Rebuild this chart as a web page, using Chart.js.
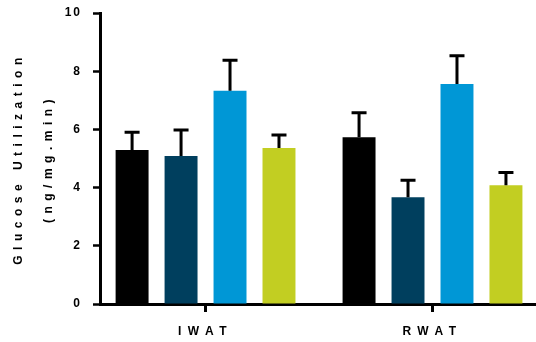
<!DOCTYPE html>
<html>
<head>
<meta charset="utf-8">
<script src="https://cdn.jsdelivr.net/npm/chart.js@4/dist/chart.umd.min.js"></script>
<style>
  body { margin: 0; background: #fff; overflow: hidden; }
</style>
</head>
<body>
<canvas id="glucoseChart" width="536" height="342"></canvas>
<script>
// values (mean and upward SEM)
const categories = ['IWAT', 'RWAT'];
const yTicks = [0, 2, 4, 6, 8, 10];
const group1 = [5.29, 5.73];
const group1Err = [0.61, 0.84];
const group2 = [5.09, 3.67];
const group2Err = [0.89, 0.58];
const group3 = [7.33, 7.56];
const group3Err = [1.05, 0.97];
const group4 = [5.36, 4.08];
const group4Err = [0.45, 0.44];

const FONT = 'Arial, "Liberation Sans", sans-serif';

const toPoints = (vals) => vals.map((v, i) => ({x: i, y: v}));

// draws the one-sided error bars
const errorBars = {
  id: 'errorBars',
  afterDatasetsDraw(chart) {
    const ctx = chart.ctx;
    const yScale = chart.scales.y;
    ctx.save();
    ctx.strokeStyle = '#000';
    ctx.lineWidth = 3;
    chart.data.datasets.forEach((ds, di) => {
      const meta = chart.getDatasetMeta(di);
      meta.data.forEach((bar, i) => {
        const top = yScale.getPixelForValue(ds.data[i].y + ds.errors[i]);
        ctx.beginPath();
        ctx.moveTo(bar.x, bar.y);
        ctx.lineTo(bar.x, top);
        ctx.moveTo(bar.x - 7.5, top);
        ctx.lineTo(bar.x + 7.5, top);
        ctx.stroke();
      });
    });
    ctx.restore();
  }
};

// the figure uses widely spaced letters
const letterSpacing = {
  id: 'letterSpacing',
  beforeDraw(chart) {
    const patch = (scale, method, sp) => {
      const orig = scale[method];
      if (orig._spaced) return;
      const fn = function (...args) {
        const prev = this.ctx.letterSpacing;
        this.ctx.letterSpacing = sp;
        orig.apply(this, args);
        this.ctx.letterSpacing = prev;
      };
      fn._spaced = true;
      scale[method] = fn;
    };
    patch(chart.scales.y, 'drawTitle', '5.5px');
    patch(chart.scales.y, 'drawLabels', '2px');
    patch(chart.scales.x, 'drawLabels', '6.5px');
  }
};

const ctx = document.getElementById('glucoseChart').getContext('2d');
const chart = new Chart(ctx, {
  type: 'bar',
  data: {
    datasets: [
      {label: 'Group 1', data: toPoints(group1), errors: group1Err, backgroundColor: '#000000'},
      {label: 'Group 2', data: toPoints(group2), errors: group2Err, backgroundColor: '#003F5E'},
      {label: 'Group 3', data: toPoints(group3), errors: group3Err, backgroundColor: '#0097D6'},
      {label: 'Group 4', data: toPoints(group4), errors: group4Err, backgroundColor: '#C2CE22'}
    ]
  },
  options: {
    responsive: false,
    animation: false,
    categoryPercentage: 0.863,
    barPercentage: 0.673,
    layout: {padding: {top: 13, left: 0, right: 0, bottom: 0}},
    plugins: {
      legend: {display: false},
      tooltip: {enabled: false}
    },
    scales: {
      x: {
        type: 'linear',
        min: -0.465,
        max: 1.456,
        offset: false,
        z: 1,
        afterBuildTicks: (s) => { s.ticks = categories.map((c, i) => ({value: i})); },
        afterFit: (s) => { s.height = 38; s.paddingLeft = 0; s.paddingRight = 0; },
        grid: {offset: false, drawOnChartArea: false, drawTicks: true, tickLength: 8, tickWidth: 3, tickColor: '#000'},
        border: {display: true, color: '#000', width: 3},
        ticks: {
          autoSkip: false,
          maxRotation: 0,
          padding: 12,
          color: '#000',
          font: {family: FONT, size: 12, weight: 'bold'},
          callback: (v) => categories[v]
        }
      },
      y: {
        min: 0,
        max: 10,
        z: 1,
        afterBuildTicks: (s) => { s.ticks = yTicks.map((v) => ({value: v})); },
        afterFit: (s) => { s.width = 100; s.paddingTop = 0; s.paddingBottom = 0; },
        grid: {drawOnChartArea: false, drawTicks: true, tickLength: 7, tickWidth: 2.5, tickColor: '#000'},
        border: {display: true, color: '#000', width: 3},
        ticks: {
          padding: 11,
          color: '#000',
          font: {family: FONT, size: 12, weight: 'bold'}
        },
        title: {
          display: true,
          text: ['Glucose Utilization', '(ng/mg.min)'],
          color: '#000',
          padding: {top: 4, bottom: 0},
          font: {family: FONT, size: 12, weight: 'bold', lineHeight: 2.5}
        }
      }
    }
  },
  plugins: [errorBars, letterSpacing]
});
</script>
</body>
</html>
